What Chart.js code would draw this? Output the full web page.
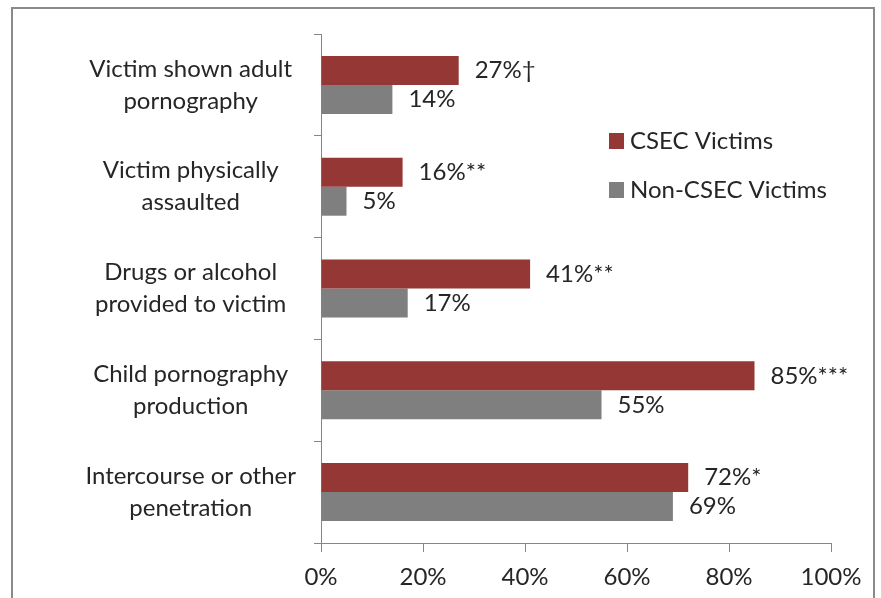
<!DOCTYPE html>
<html>
<head>
<meta charset="utf-8">
<title>CSEC vs Non-CSEC Victims</title>
<script src="https://cdn.jsdelivr.net/npm/chart.js@4/dist/chart.umd.min.js"></script>
<style>
    html, body { margin: 0; padding: 0; background: #ffffff; overflow: hidden; }
    #wrap { position: relative; width: 881px; height: 598px; }
    #frame {
        position: absolute; left: 11px; top: 7px; width: 864px; height: 620px;
        border: 2px solid #8a8a8a; box-sizing: border-box;
    }
    #chart { position: absolute; left: 0; top: 0; }
</style>
</head>
<body>
<div id="wrap">
    <div id="frame"></div>
    <canvas id="chart" width="881" height="598"></canvas>
</div>
<script>
// Chart data
const categories = [
    ['Victim shown adult', 'pornography'],
    ['Victim physically', 'assaulted'],
    ['Drugs or alcohol', 'provided to victim'],
    ['Child pornography', 'production'],
    ['Intercourse or other', 'penetration']
];
const csecValues = [27, 16, 41, 85, 72];
const nonCsecValues = [14, 5, 17, 55, 69];
const csecMarks = ['\u2020', '**', '**', '***', '*'];
const nonCsecMarks = ['', '', '', '', ''];
const xTicks = [0, 20, 40, 60, 80, 100];

const FONT = 'Lato, "Open Sans", sans-serif';
const FONT_SIZE = 24;
const TEXT_COLOR = '#262626';
const AXIS_COLOR = '#868686';

// Value labels right of each bar
const valueLabels = {
    id: 'valueLabels',
    afterDatasetsDraw(chart) {
        const ctx = chart.ctx;
        ctx.save();
        ctx.font = FONT_SIZE + 'px ' + FONT;
        ctx.fillStyle = TEXT_COLOR;
        ctx.textAlign = 'left';
        ctx.textBaseline = 'middle';
        chart.data.datasets.forEach((ds, di) => {
            const meta = chart.getDatasetMeta(di);
            meta.data.forEach((bar, i) => {
                ctx.fillText(ds.data[i] + '%' + ds.marks[i], bar.x + 16, bar.y);
            });
        });
        ctx.restore();
    }
};

// Legend drawn inside the plot area, right side
const innerLegend = {
    id: 'innerLegend',
    afterDraw(chart) {
        const ctx = chart.ctx;
        const x = 609;
        const y0 = 141;
        const step = 49;
        ctx.save();
        ctx.font = FONT_SIZE + 'px ' + FONT;
        ctx.textAlign = 'left';
        ctx.textBaseline = 'middle';
        chart.data.datasets.forEach((ds, i) => {
            const y = y0 + i * step;
            ctx.fillStyle = ds.backgroundColor;
            ctx.fillRect(x, y - 8, 15, 16);
            ctx.fillStyle = TEXT_COLOR;
            ctx.fillText(ds.label, x + 21, y);
        });
        ctx.restore();
    }
};

const ctx = document.getElementById('chart').getContext('2d');
new Chart(ctx, {
    type: 'bar',
    data: {
        labels: categories,
        datasets: [{
            label: 'CSEC Victims',
            data: csecValues,
            marks: csecMarks,
            backgroundColor: '#953735',
            borderWidth: 0,
            barPercentage: 1,
            categoryPercentage: 0.57
        }, {
            label: 'Non-CSEC Victims',
            data: nonCsecValues,
            marks: nonCsecMarks,
            backgroundColor: '#7f7f7f',
            borderWidth: 0,
            barPercentage: 1,
            categoryPercentage: 0.57
        }]
    },
    options: {
        indexAxis: 'y',
        responsive: false,
        animation: false,
        layout: {
            padding: { left: 0, top: 34, right: 50, bottom: 0 }
        },
        plugins: {
            legend: { display: false },
            tooltip: { enabled: false }
        },
        scales: {
            x: {
                min: 0,
                max: 100,
                afterBuildTicks(scale) {
                    scale.ticks = xTicks.map(v => ({ value: v }));
                },
                afterFit(scale) {
                    scale.height = 55;
                },
                grid: {
                    drawOnChartArea: false,
                    color: AXIS_COLOR,
                    tickLength: 9
                },
                border: { color: AXIS_COLOR, width: 1 },
                ticks: {
                    padding: 11,
                    color: TEXT_COLOR,
                    font: { family: FONT, size: FONT_SIZE },
                    callback: v => v + '%'
                }
            },
            y: {
                afterFit(scale) {
                    scale.width = 321;
                    // two-line labels would otherwise push the plot down
                    scale.paddingTop = 0;
                    scale.paddingBottom = 0;
                },
                grid: {
                    drawOnChartArea: false,
                    color: AXIS_COLOR,
                    tickLength: 7
                },
                border: { color: AXIS_COLOR, width: 1 },
                ticks: {
                    padding: 18,
                    crossAlign: 'center',
                    color: TEXT_COLOR,
                    font: { family: FONT, size: FONT_SIZE, lineHeight: 1.33 }
                }
            }
        }
    },
    plugins: [valueLabels, innerLegend]
});
</script>
</body>
</html>
